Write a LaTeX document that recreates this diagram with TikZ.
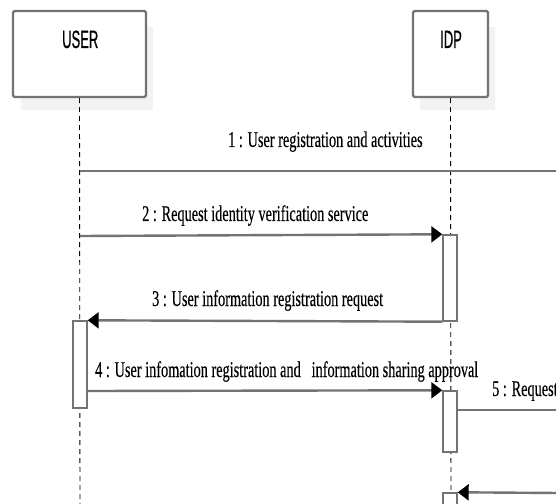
\documentclass[tikz,border=0pt]{standalone}
\usepackage{fontspec}
\setmainfont{Liberation Serif}[FakeStretch=0.635, FakeBold=0.25]
\newfontfamily\boxfont{Liberation Sans}[FakeStretch=0.52, FakeBold=0.6]
\usetikzlibrary{arrows.meta}
\tikzset{
  objbox/.style={draw=black!55, line width=2.2bp, rounded corners=1.5bp, fill=white, inner sep=0pt},
  shadowbox/.style={fill=gray!10, draw=none},
  objlbl/.style={font=\boxfont\fontsize{25bp}{27bp}\selectfont, anchor=base west, inner sep=0pt},
  lifeline/.style={draw=black, line width=0.9bp, dash pattern=on 5bp off 4bp},
  actbox/.style={draw=black!55, line width=1.4bp, fill=white, minimum width=14bp, inner sep=0pt},
  msg/.style={draw=black!55, line width=2.4bp},
  msgarrow/.style={msg, -{Triangle[length=11bp,width=16bp,fill=black,color=black]}},
  msglbl/.style={font=\fontsize{22.5bp}{24bp}\selectfont, anchor=base west, inner sep=0pt},
}
\begin{document}
\begin{tikzpicture}[x=1bp,y=-1bp]
\useasboundingbox (0,0) rectangle (556,504);
\clip (0,0) rectangle (556,504);
% shadows
\fill[shadowbox] (21,27) rectangle (153,110);
\fill[shadowbox] (420,27) rectangle (495,110);
% object boxes
\node[objbox, minimum width=133bp, minimum height=86bp] (user) at (79.5,54) {};
\node[objbox, minimum width=75bp, minimum height=86bp] (idp) at (450.5,54) {};
\node[objlbl] (userlbl) at (62,48) {USER};
\node[objlbl] (idplbl) at (440,48) {IDP};
% lifeline ends
\coordinate (userend) at (80,510);
\coordinate (idpend) at (451,510);
\draw[lifeline] (user.south) -- (userend);
\draw[lifeline] (idp.south) -- (idpend);
% activations
\node[actbox, minimum height=86bp] (ia1) at (450,278) {};
\node[actbox, minimum height=87bp] (ua1) at (80,364.5) {};
\node[actbox, minimum height=61bp] (ia2) at (450,421.5) {};
\node[actbox, minimum height=30bp] (ia3) at (450,508) {};
% message coordinates
\coordinate (m1a) at (80,171);
\coordinate (m1b) at (560,171);
\coordinate (m2a) at (80,236);
\coordinate (m4a) at (ua1.east |- 0,391);
\coordinate (m5a) at (ia2.east |- 0,410);
\coordinate (m5b) at (560,410);
\coordinate (m6a) at (560,493);
% messages
\draw[msg] (m1a) -- (m1b);
\draw[msgarrow] (m2a) -- (ia1.north west);
\draw[msgarrow] (ia1.south west) -- (ua1.north east);
\draw[msgarrow] (m4a) -- (ia2.north west);
\draw[msg] (m5a) -- (m5b);
\draw[msgarrow] (m6a) -- (ia3.north east);
% labels
\node[msglbl] (l1) at (228,147) {1 : User registration and activities};
\node[msglbl] (l2) at (142,221) {2 : Request identity verification service};
\node[msglbl] (l3) at (152,306) {3 : User information registration request};
\node[msglbl] (l4) at (95,377) {4 : User infomation registration and\ \ \,information sharing approval};
\node[msglbl] (l5) at (492,396) {5 : Request};
\end{tikzpicture}
\end{document}
